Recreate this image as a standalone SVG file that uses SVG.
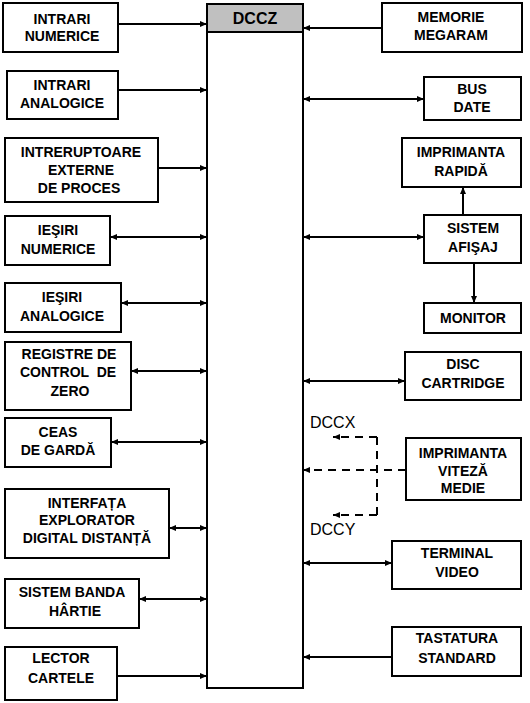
<svg xmlns="http://www.w3.org/2000/svg" width="530" height="703" viewBox="0 0 530 703">
<style>
.box{fill:#fff;stroke:#000;stroke-width:2}
.lbl{font-family:"Liberation Sans",Arial,sans-serif;font-weight:bold;font-size:14px;fill:#000;text-anchor:middle}
.tag{font-family:"Liberation Sans",Arial,sans-serif;font-size:16px;fill:#000}
.ln{fill:none;stroke:#000;stroke-width:2}
.one{marker-end:url(#ah)}
.two{marker-start:url(#ah);marker-end:url(#ah)}
.dash{stroke-dasharray:8,6}
</style>
<defs>
<marker id="ah" markerUnits="userSpaceOnUse" markerWidth="8" markerHeight="8" refX="7" refY="3.5" orient="auto-start-reverse">
<path d="M0,0.5 L7,3.5 L0,6.5 z" fill="#000"/>
</marker>
</defs>
<rect width="530" height="703" fill="#fff"/>

<g id="dccz">
<rect class="box" x="207" y="4" width="96" height="684"/>
<rect x="207" y="4" width="96" height="28" fill="#c0c0c0" stroke="#000" stroke-width="2"/>
<text class="lbl" x="255" y="24" style="font-size:16px">DCCZ</text>
</g>

<g id="intrari-numerice"><rect class="box" x="3" y="3" width="115" height="49"/><text class="lbl" x="62"><tspan x="62" y="24">INTRARI</tspan><tspan x="62" y="41">NUMERICE</tspan></text></g>
<g id="intrari-analogice"><rect class="box" x="7" y="71" width="111" height="48"/><text class="lbl"><tspan x="62" y="90">INTRARI</tspan><tspan x="62" y="108">ANALOGICE</tspan></text></g>
<g id="intreruptoare"><rect class="box" x="5" y="138" width="153" height="64"/><text class="lbl"><tspan x="81" y="157">INTRERUPTOARE</tspan><tspan x="81" y="175">EXTERNE</tspan><tspan x="79" y="193">DE PROCES</tspan></text></g>
<g id="iesiri-numerice"><rect class="box" x="5" y="216" width="105" height="49"/><text class="lbl"><tspan x="58" y="235">IEŞIRI</tspan><tspan x="58" y="254">NUMERICE</tspan></text></g>
<g id="iesiri-analogice"><rect class="box" x="5" y="283" width="116" height="49"/><text class="lbl"><tspan x="62" y="302">IEŞIRI</tspan><tspan x="62" y="321">ANALOGICE</tspan></text></g>
<g id="registre"><rect class="box" x="5" y="342" width="126" height="68"/><text class="lbl" xml:space="preserve"><tspan x="69" y="359">REGISTRE DE</tspan><tspan x="68" y="377">CONTROL  DE</tspan><tspan x="70" y="396">ZERO</tspan></text></g>
<g id="ceas"><rect class="box" x="5" y="418" width="106" height="49"/><text class="lbl"><tspan x="58" y="437">CEAS</tspan><tspan x="58" y="455">DE GARDĂ</tspan></text></g>
<g id="interfata"><rect class="box" x="5" y="489" width="164" height="69"/><text class="lbl"><tspan x="87" y="508">INTERFAȚA</tspan><tspan x="87" y="525">EXPLORATOR</tspan><tspan x="87" y="543">DIGITAL DISTANȚĂ</tspan></text></g>
<g id="banda"><rect class="box" x="5" y="579" width="134" height="49"/><text class="lbl"><tspan x="72" y="597">SISTEM BANDA</tspan><tspan x="75" y="616">HÂRTIE</tspan></text></g>
<g id="lector"><rect class="box" x="5" y="647" width="112" height="53"/><text class="lbl"><tspan x="61" y="663">LECTOR</tspan><tspan x="61" y="683">CARTELE</tspan></text></g>

<g id="memorie"><rect class="box" x="382" y="3" width="140" height="49"/><text class="lbl"><tspan x="451" y="22">MEMORIE</tspan><tspan x="451" y="40">MEGARAM</tspan></text></g>
<g id="bus"><rect class="box" x="424" y="77" width="97" height="43"/><text class="lbl"><tspan x="472" y="94">BUS</tspan><tspan x="472" y="112">DATE</tspan></text></g>
<g id="imprimanta-rapida"><rect class="box" x="402" y="138" width="119" height="49"/><text class="lbl"><tspan x="461" y="157">IMPRIMANTA</tspan><tspan x="461" y="176">RAPIDĂ</tspan></text></g>
<g id="afisaj"><rect class="box" x="424" y="215" width="97" height="48"/><text class="lbl"><tspan x="473" y="233">SISTEM</tspan><tspan x="473" y="252">AFIŞAJ</tspan></text></g>
<g id="monitor"><rect class="box" x="424" y="303" width="97" height="30"/><text class="lbl" x="473" y="323">MONITOR</text></g>
<g id="disc"><rect class="box" x="405" y="352" width="116" height="48"/><text class="lbl"><tspan x="463" y="369">DISC</tspan><tspan x="463" y="388">CARTRIDGE</tspan></text></g>
<g id="imprimanta-medie"><rect class="box" x="406" y="438" width="115" height="62"/><text class="lbl"><tspan x="463" y="458">IMPRIMANTA</tspan><tspan x="463" y="476">VITEZĂ</tspan><tspan x="463" y="493">MEDIE</tspan></text></g>
<g id="terminal"><rect class="box" x="392" y="541" width="129" height="48"/><text class="lbl"><tspan x="457" y="558">TERMINAL</tspan><tspan x="457" y="577">VIDEO</tspan></text></g>
<g id="tastatura"><rect class="box" x="392" y="627" width="129" height="49"/><text class="lbl"><tspan x="457" y="643">TASTATURA</tspan><tspan x="457" y="663">STANDARD</tspan></text></g>

<g id="connectors">
<path class="ln one" d="M118,24 H207"/>
<path class="ln one" d="M118,90 H207"/>
<path class="ln one" d="M158,168 H207"/>
<path class="ln two" d="M110,237 H207"/>
<path class="ln two" d="M121,303 H207"/>
<path class="ln two" d="M131,371 H207"/>
<path class="ln two" d="M111,442 H207"/>
<path class="ln two" d="M169,528 H207"/>
<path class="ln two" d="M139,599 H207"/>
<path class="ln one" d="M117,676 H207"/>

<path class="ln one" d="M382,28 H303"/>
<path class="ln two" d="M303,99 H424"/>
<path class="ln two" d="M303,237 H424"/>
<path class="ln one" d="M463,215 V187"/>
<path class="ln one" d="M474,263 V303"/>
<path class="ln two" d="M303,381 H405"/>
<path class="ln one dash" d="M406,470 H303"/>
<path class="ln dash" d="M377,437 V515"/>
<path class="ln one dash" d="M377,437 H333"/>
<path class="ln one dash" d="M377,515 H333"/>
<path class="ln two" d="M303,563 H392"/>
<path class="ln one" d="M392,657 H303"/>
</g>
<text class="tag" x="310" y="428">DCCX</text>
<text class="tag" x="310" y="535">DCCY</text>
</svg>
